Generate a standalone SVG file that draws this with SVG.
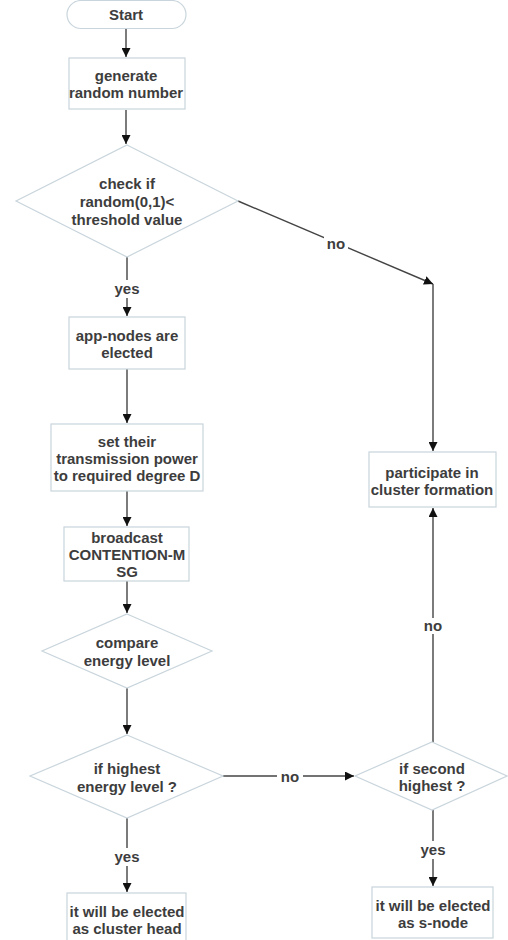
<svg xmlns="http://www.w3.org/2000/svg" width="508" height="940" viewBox="0 0 508 940">
<style>
.shape{fill:#ffffff;stroke:#c9d5dc;stroke-width:1.2}
.t{font-family:"Liberation Sans",Arial,sans-serif;font-weight:bold;font-size:15px;fill:#3d3d3d;text-anchor:middle}
.c{fill:none;stroke:#444;stroke-width:1.4}
.lbl{font-family:"Liberation Sans",Arial,sans-serif;font-weight:bold;font-size:15px;fill:#3d3d3d;text-anchor:middle}
</style>
<defs>
<marker id="ah" viewBox="0 0 10 10" refX="10" refY="5" markerWidth="9" markerHeight="9" markerUnits="userSpaceOnUse" orient="auto">
<path d="M0,0 L10,5 L0,10 z" fill="#111"/>
</marker>
</defs>
<rect width="508" height="940" fill="#ffffff"/>
<g id="connectors">
<path class="c" d="M126,28 V57" marker-end="url(#ah)"/>
<path class="c" d="M126,110 V144" marker-end="url(#ah)"/>
<path class="c" d="M127,257 V280 M127,298 V316" marker-end="url(#ah)"/>
<path class="c" d="M127,369 V423" marker-end="url(#ah)"/>
<path class="c" d="M127,491 V526" marker-end="url(#ah)"/>
<path class="c" d="M127,581 V613" marker-end="url(#ah)"/>
<path class="c" d="M127,688 V734" marker-end="url(#ah)"/>
<path class="c" d="M127,818 V848 M127,866 V892" marker-end="url(#ah)"/>
<path class="c" d="M238,201 L433,284" marker-end="url(#ah)"/>
<path class="c" d="M433,284 V451" marker-end="url(#ah)"/>
<path class="c" d="M223,776 L354,776" marker-end="url(#ah)"/>
<path class="c" d="M433,742 V508" marker-end="url(#ah)"/>
<path class="c" d="M433,810 V841 M433,859 V886" marker-end="url(#ah)"/>
<rect x="324" y="235" width="24" height="16" fill="#ffffff"/>
<text class="lbl" x="336" y="249">no</text>
<text class="lbl" x="127" y="294">yes</text>
<text class="lbl" x="127" y="862">yes</text>
<rect x="277" y="769" width="26" height="14" fill="#ffffff"/>
<text class="lbl" x="290" y="782">no</text>
<rect x="421" y="618" width="24" height="16" fill="#ffffff"/>
<text class="lbl" x="433" y="631">no</text>
<text class="lbl" x="433" y="855">yes</text>
</g>
<g id="start">
<rect class="shape" x="67" y="0.5" width="119" height="28" rx="14"/>
<text class="t" x="126" y="20">Start</text>
</g>
<g id="generate">
<rect class="shape" x="69" y="58" width="116" height="51"/>
<text class="t" x="126" y="81">generate</text>
<text class="t" x="126" y="98">random number</text>
</g>
<g id="check">
<polygon class="shape" points="127,145 238,201 127,257 16,201"/>
<text class="t" x="127" y="189">check if</text>
<text class="t" x="127" y="207">random(0,1)&lt;</text>
<text class="t" x="127" y="225">threshold value</text>
</g>
<g id="app-nodes">
<rect class="shape" x="69" y="317" width="116" height="52"/>
<text class="t" x="127" y="341">app-nodes are</text>
<text class="t" x="127" y="358">elected</text>
</g>
<g id="set-power">
<rect class="shape" x="51" y="424" width="152" height="67"/>
<text class="t" x="127" y="447">set their</text>
<text class="t" x="127" y="464">transmission power</text>
<text class="t" x="127" y="481">to required degree D</text>
</g>
<g id="broadcast">
<rect class="shape" x="64" y="527" width="125" height="54"/>
<text class="t" x="127" y="543">broadcast</text>
<text class="t" x="127" y="560">CONTENTION-M</text>
<text class="t" x="127" y="577">SG</text>
</g>
<g id="compare">
<polygon class="shape" points="127,614 212,651 127,688 42,651"/>
<text class="t" x="127" y="648">compare</text>
<text class="t" x="127" y="666">energy level</text>
</g>
<g id="highest">
<polygon class="shape" points="127,735 223,776 127,818 30,776"/>
<text class="t" x="127" y="774">if highest</text>
<text class="t" x="127" y="792">energy level ?</text>
</g>
<g id="cluster-head">
<rect class="shape" x="67" y="893" width="119" height="52"/>
<text class="t" x="127" y="917">it will be elected</text>
<text class="t" x="127" y="934">as cluster head</text>
</g>
<g id="participate">
<rect class="shape" x="369" y="452" width="127" height="55"/>
<text class="t" x="432" y="478">participate in</text>
<text class="t" x="432" y="495">cluster formation</text>
</g>
<g id="second">
<polygon class="shape" points="432,742 507,776 432,810 355,776"/>
<text class="t" x="432" y="774">if second</text>
<text class="t" x="432" y="791">highest ?</text>
</g>
<g id="s-node">
<rect class="shape" x="372" y="887" width="121" height="51"/>
<text class="t" x="433" y="911">it will be elected</text>
<text class="t" x="433" y="928">as s-node</text>
</g>
</svg>
